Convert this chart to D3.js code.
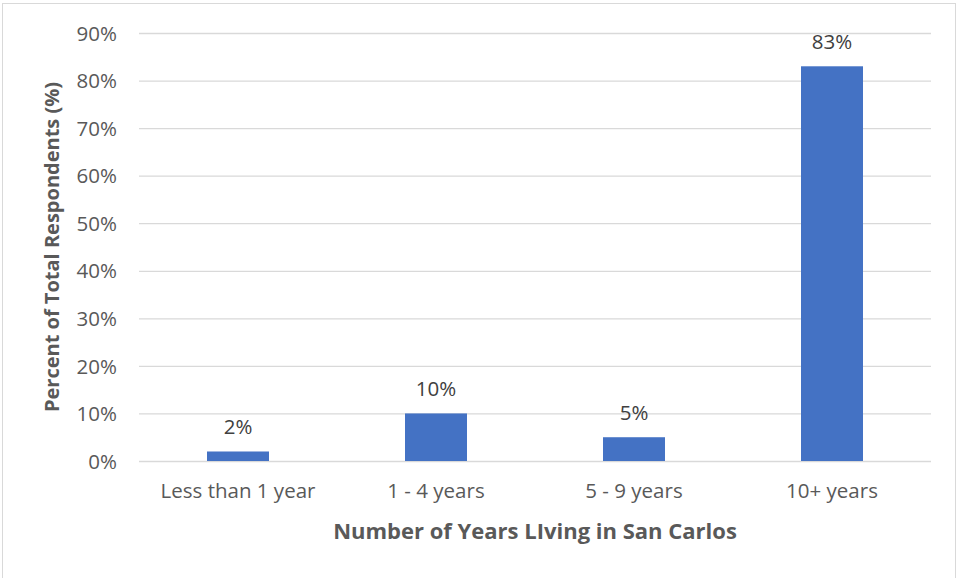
<!DOCTYPE html>
<html>
<head>
<meta charset="utf-8">
<script src="https://cdn.jsdelivr.net/npm/d3@7"></script>
<style>
  html, body { margin: 0; padding: 0; background: #fff; }
  svg { display: block; font-family: "Open Sans", Lato, sans-serif; }
  svg text { font-family: "Open Sans", Lato, sans-serif; }
</style>
</head>
<body>
<svg id="chart" width="961" height="578"></svg>
<script>
// Survey: length of residence in San Carlos
const categories = ["Less than 1 year", "1 - 4 years", "5 - 9 years", "10+ years"];
const values = [0.02, 0.10, 0.05, 0.83];
const yTicks = [0, 0.1, 0.2, 0.3, 0.4, 0.5, 0.6, 0.7, 0.8, 0.9];
const xTitle = "Number of Years LIving in San Carlos";
const yTitle = "Percent of Total Respondents (%)";

const svg = d3.select("#chart");
const plot = { left: 139, right: 931, top: 33, bottom: 461 };
const labelSize = "20.5px";

// Outer chart frame
svg.append("rect")
  .attr("x", 2.5).attr("y", 3.5)
  .attr("width", 953).attr("height", 580)
  .attr("fill", "#fff").attr("stroke", "#d9d9d9").attr("stroke-width", 1);

const x = d3.scaleBand()
  .domain(categories)
  .range([plot.left, plot.right])
  .paddingInner(1 - 62 / 198)
  .paddingOuter((1 - 62 / 198) / 2);

const y = d3.scaleLinear()
  .domain([0, 0.9])
  .range([plot.bottom, plot.top]);

const pct = d3.format(".0%");

// Horizontal gridlines and y tick labels
const yAxis = d3.axisLeft(y)
  .tickValues(yTicks)
  .tickFormat(pct)
  .tickSize(-(plot.right - plot.left))
  .tickPadding(22);

const gy = svg.append("g")
  .attr("transform", `translate(${plot.left},0)`)
  .call(yAxis)
  .attr("font-family", null)
  .attr("font-size", null);
gy.select(".domain").remove();
gy.selectAll(".tick line").attr("stroke", "#d9d9d9").attr("stroke-width", 1.3);
gy.selectAll(".tick text")
  .attr("fill", "#595959")
  .style("font-size", labelSize)
  .attr("dy", "0.35em");

// Category axis (labels only)
const xAxis = d3.axisBottom(x).tickSize(0).tickPadding(22);
const gx = svg.append("g")
  .attr("transform", `translate(0,${plot.bottom})`)
  .call(xAxis)
  .attr("font-family", null)
  .attr("font-size", null);
gx.select(".domain").remove();
gx.selectAll(".tick text")
  .attr("fill", "#595959")
  .style("font-size", labelSize);

// Bars
svg.append("g").selectAll("rect")
  .data(values)
  .join("rect")
  .attr("x", (d, i) => x(categories[i]))
  .attr("width", x.bandwidth())
  .attr("y", d => y(d))
  .attr("height", d => y(0) - y(d))
  .attr("fill", "#4472c4");

// Value labels
svg.append("g").selectAll("text")
  .data(values)
  .join("text")
  .attr("x", (d, i) => x(categories[i]) + x.bandwidth() / 2)
  .attr("y", d => y(d) - 17)
  .attr("text-anchor", "middle")
  .attr("fill", "#404040")
  .style("font-size", labelSize)
  .text(d => pct(d));

// Axis titles
svg.append("text")
  .attr("x", (plot.left + plot.right) / 2)
  .attr("y", 539)
  .attr("text-anchor", "middle")
  .attr("fill", "#595959")
  .style("font-size", "22px")
  .style("font-weight", "bold")
  .text(xTitle);

svg.append("text")
  .attr("transform", `translate(59,${(plot.top + plot.bottom) / 2}) rotate(-90)`)
  .attr("text-anchor", "middle")
  .attr("fill", "#595959")
  .style("font-size", "20px")
  .style("font-weight", "bold")
  .text(yTitle);
</script>
</body>
</html>
